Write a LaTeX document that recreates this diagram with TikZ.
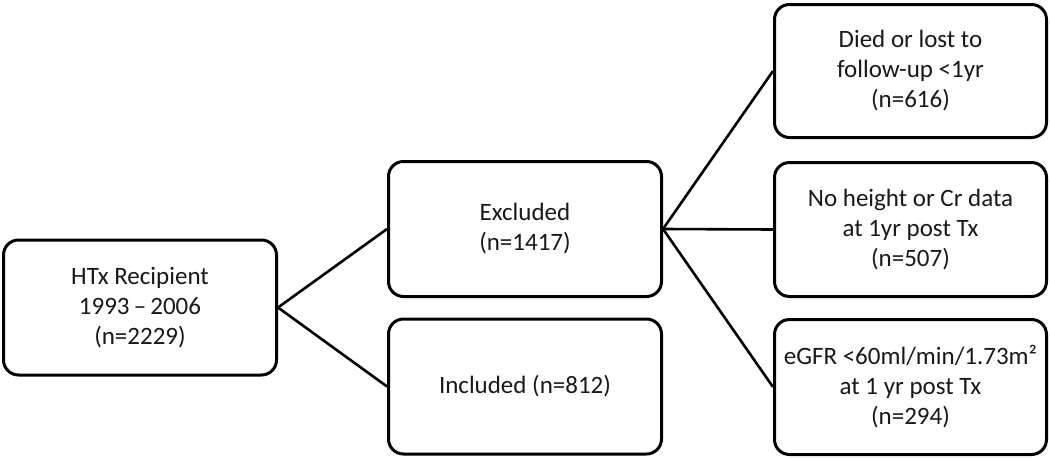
\documentclass[tikz,border=0pt]{standalone}
\usepackage{fontspec}
\setmainfont{Carlito}
\begin{document}
\begin{tikzpicture}[x=1pt,y=-1pt,
  boxnode/.style={draw=black,line width=3pt,rounded corners=15pt,fill=white,
    minimum width=273pt,minimum height=135pt,align=center,
    font=\fontsize{25}{30}\selectfont,text=black!90,inner sep=2pt},
  conn/.style={line width=2.6pt,black}]
\useasboundingbox (0,0) rectangle (1050,458);
\node[boxnode] (htx) at (140,307.5) {HTx Recipient\\1993\,–\,2006\\(n=2229)};
\node[boxnode] (exc) at (525,229) {Excluded\\(n=1417)};
\node[boxnode] (inc) at (525,386.5) {Included (n=812)};
\node[boxnode,minimum width=272pt,minimum height=133pt] (died) at (910.5,71) {Died or lost to\\follow-up <1yr\\(n=616)};
\node[boxnode,minimum width=272pt,minimum height=134pt] (noh) at (910.5,229.5) {No height or Cr data\\at 1yr post Tx\\(n=507)};
\node[boxnode,minimum width=272pt] (egfr) at (910.5,387) {eGFR <60ml/min/1.73m²\\at 1 yr post Tx\\(n=294)};
\draw[conn] (htx.east) -- (exc.west);
\draw[conn] (htx.east) -- (inc.west);
\draw[conn] (exc.east) -- (died.west);
\draw[conn] (exc.east) -- (noh.west);
\draw[conn] (exc.east) -- (egfr.west);
\end{tikzpicture}
\end{document}
